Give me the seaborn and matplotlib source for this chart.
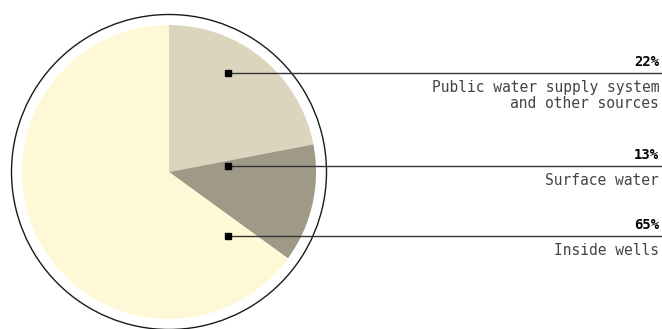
import matplotlib
matplotlib.use("Agg")
import matplotlib.pyplot as plt
import seaborn as sns
from matplotlib.patches import Circle

# Water source shares (percent), clockwise from 12 o'clock
sources = ["Public water supply system\nand other sources", "Surface water", "Inside wells"]
shares = [22, 13, 65]
share_labels = ["22%", "13%", "65%"]
slice_colors = ["#dcd5be", "#9e9a87", "#fff8d6"]

sns.set_theme(style="white")
plt.rcParams["font.family"] = ["DejaVu Sans Mono", "DejaVu Sans"]

W, H = 662, 329
fig = plt.figure(figsize=(W / 100, H / 100), dpi=100)
ax = fig.add_axes([0, 0, 1, 1])

cx, cy = 169, H - 172
r = 147

palette = sns.color_palette(slice_colors)
ax.pie(shares, colors=palette, startangle=90, counterclock=False,
       center=(cx, cy), radius=r, frame=True,
       wedgeprops=dict(linewidth=0))
ax.set_xlim(0, W)
ax.set_ylim(0, H)
ax.set_aspect("equal")
ax.axis("off")

# Thin outer ring around the pie
ax.add_patch(Circle((cx, cy), 157.5, fill=False, edgecolor="#1a1a1a", linewidth=1.0, zorder=3))

# Leader lines with square markers and right-aligned labels
marker_x = 228
line_y = [H - 73, H - 166, H - 236]
for y, pct, name in zip(line_y, share_labels, sources):
    ax.plot([marker_x, W], [y, y], color="#333333", linewidth=1.0, zorder=4,
            solid_capstyle="butt")
    ax.plot([marker_x], [y], marker="s", markersize=5, color="black", zorder=5)
    ax.text(W - 3, y + 7, pct, ha="right", va="baseline", fontsize=10,
            fontweight="bold", color="black")
    ax.text(W - 3, y - 7, name, ha="right", va="top", fontsize=10.5,
            color="#444444", linespacing=1.05, multialignment="right")

fig.savefig("out.png", dpi=100)
